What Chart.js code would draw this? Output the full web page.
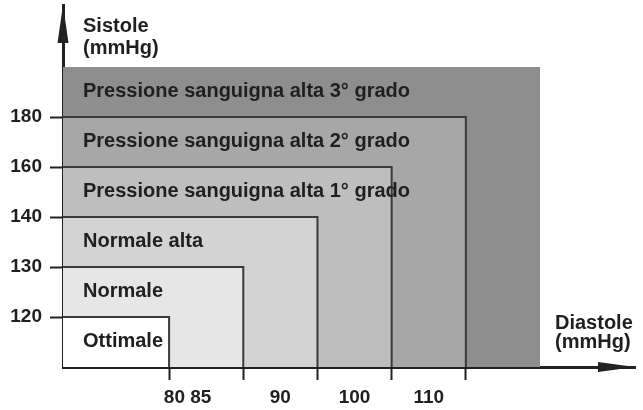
<!DOCTYPE html>
<html>
<head>
<meta charset="utf-8">
<script src="https://cdn.jsdelivr.net/npm/chart.js@4/dist/chart.umd.min.js"></script>
<style>
  html, body { margin: 0; padding: 0; background: #ffffff; }
  #wrap { width: 643px; height: 410px; }
</style>
</head>
<body>
<div id="wrap"><canvas id="c" width="643" height="410"></canvas></div>
<script>
// ---------------- DATA ----------------
const categories = [
  'Ottimale',
  'Normale',
  'Normale alta',
  'Pressione sanguigna alta 1° grado',
  'Pressione sanguigna alta 2° grado',
  'Pressione sanguigna alta 3° grado'
];
// upper limits of each class (the last class is open-ended)
const systolicLimits  = [120, 130, 140, 160, 180];
const diastolicLimits = [80, 85, 90, 100, 110];
const yTickLabels = ['120', '130', '140', '160', '180'];
const xTickLabels = ['80 85', '90', '100', '110'];
const yAxisTitle = ['Sistole', '(mmHg)'];
const xAxisTitle = ['Diastole', '(mmHg)'];

// ---------------- STYLE / LAYOUT ----------------
const FONT = "'Liberation Sans', Arial, Helvetica, sans-serif";
const TEXT = '#1f1f1f';
const AXIS = '#222222';
const fillColors = ['#fefefe', '#e6e6e6', '#d3d3d3', '#bebebe', '#a7a7a7', '#8e8e8e'];
const edgeColor = '#3a3a3a';
const FIRST_BAND = 1.43;   // schematic (ordinal) axis: first band is wider
const X_MAX = 7.71, Y_MAX = 7.24;

// ordinal positions on the schematic axes
const sysPos = v => (v === null ? systolicLimits.length + 1 : systolicLimits.indexOf(v) + 1);
const diaPos = v => (v === null ? FIRST_BAND + diastolicLimits.length : FIRST_BAND + diastolicLimits.indexOf(v));

const tops = categories.map((c, i) => sysPos(i < systolicLimits.length ? systolicLimits[i] : null));
const rights = categories.map((c, i) => diaPos(i < diastolicLimits.length ? diastolicLimits[i] : null));

const datasets = categories.map((name, i) => ({
  label: name,
  data: [{x: 0, y: tops[i]}, {x: rights[i], y: tops[i]}, {x: rights[i], y: 0}],
  backgroundColor: fillColors[i],
  borderColor: i < categories.length - 1 ? edgeColor : 'rgba(0,0,0,0)',
  borderWidth: 2,
  fill: 'origin',
  pointRadius: 0,
  tension: 0,
  borderCapStyle: 'butt',
  borderJoinStyle: 'miter'
}));

// x ticks: marks at class boundaries, labels centred in the bands
const xMarkValues = diastolicLimits.map(v => diaPos(v));
const xLabelValues = xTickLabels.map((t, i) => (i === 0 ? FIRST_BAND + 0.25 : FIRST_BAND + i + 0.5));

const overlay = {
  id: 'overlay',
  afterDatasetsDraw(chart) {
    const ctx = chart.ctx;
    const xs = chart.scales.x, ys = chart.scales.y;
    ctx.save();
    ctx.fillStyle = TEXT;
    ctx.font = 'bold 20px ' + FONT;
    ctx.textAlign = 'left';
    ctx.textBaseline = 'middle';
    categories.forEach((name, i) => {
      const lower = i === 0 ? 0 : tops[i - 1];
      const yv = (tops[i] + lower) / 2;
      ctx.fillText(name, xs.getPixelForValue(0) + 20, ys.getPixelForValue(yv) - 1);
    });
    ctx.restore();
  },
  afterDraw(chart) {
    const ctx = chart.ctx;
    const a = chart.chartArea;
    ctx.save();
    ctx.fillStyle = AXIS;
    // y arrow
    ctx.beginPath();
    ctx.moveTo(a.left, a.top);
    ctx.lineTo(a.left - 5.5, a.top + 38);
    ctx.lineTo(a.left + 5.5, a.top + 38);
    ctx.closePath();
    ctx.fill();
    // x arrow
    ctx.beginPath();
    ctx.moveTo(a.right, a.bottom);
    ctx.lineTo(a.right - 37, a.bottom - 5);
    ctx.lineTo(a.right - 37, a.bottom + 5);
    ctx.closePath();
    ctx.fill();
    // axis titles
    ctx.fillStyle = TEXT;
    ctx.font = 'bold 20px ' + FONT;
    ctx.textAlign = 'left';
    ctx.textBaseline = 'alphabetic';
    ctx.fillText(yAxisTitle[0], a.left + 20, 32);
    ctx.fillText(yAxisTitle[1], a.left + 20, 54);
    ctx.fillText(xAxisTitle[0], 555, a.bottom - 38);
    ctx.fillText(xAxisTitle[1], 555, a.bottom - 19);
    ctx.restore();
  }
};

new Chart(document.getElementById('c'), {
  type: 'line',
  data: { datasets },
  plugins: [overlay],
  options: {
    responsive: false,
    animation: false,
    events: [],
    layout: { padding: { left: 0, top: 5, right: 8, bottom: 0 } },
    plugins: { legend: { display: false }, tooltip: { enabled: false }, title: { display: false } },
    scales: {
      x: {
        type: 'linear', min: 0, max: X_MAX, z: 1,
        afterBuildTicks: s => {
          s.ticks = xMarkValues.map(v => ({value: v, isMark: true}))
            .concat(xLabelValues.map((v, i) => ({value: v, isMark: false})));
        },
        afterFit: s => { s.height = 43; s.paddingLeft = 0; s.paddingRight = 0; },
        ticks: {
          autoSkip: false, maxRotation: 0, minRotation: 0,
          padding: 6, color: TEXT,
          font: { family: FONT, size: 19, weight: 'bold' },
          callback: function(value) {
            const i = xLabelValues.findIndex(v => Math.abs(v - value) < 1e-6);
            return i >= 0 ? xTickLabels[i] : '';
          }
        },
        grid: {
          drawOnChartArea: false, tickLength: 13, tickWidth: 2,
          tickColor: ctx => (ctx.tick && ctx.tick.isMark ? AXIS : 'rgba(0,0,0,0)')
        },
        border: { display: true, color: AXIS, width: 3 }
      },
      y: {
        type: 'linear', min: 0, max: Y_MAX, z: 1,
        afterBuildTicks: s => { s.ticks = systolicLimits.map(v => ({value: sysPos(v)})); },
        afterFit: s => { s.width = 63; s.paddingTop = 0; s.paddingBottom = 0; },
        ticks: {
          autoSkip: false, padding: 8, color: TEXT,
          font: { family: FONT, size: 19, weight: 'bold' },
          callback: value => yTickLabels[Math.round(value) - 1]
        },
        grid: { drawOnChartArea: false, tickLength: 13, tickWidth: 2, tickColor: AXIS },
        border: { display: true, color: AXIS, width: 3 }
      }
    }
  }
});
</script>
</body>
</html>
